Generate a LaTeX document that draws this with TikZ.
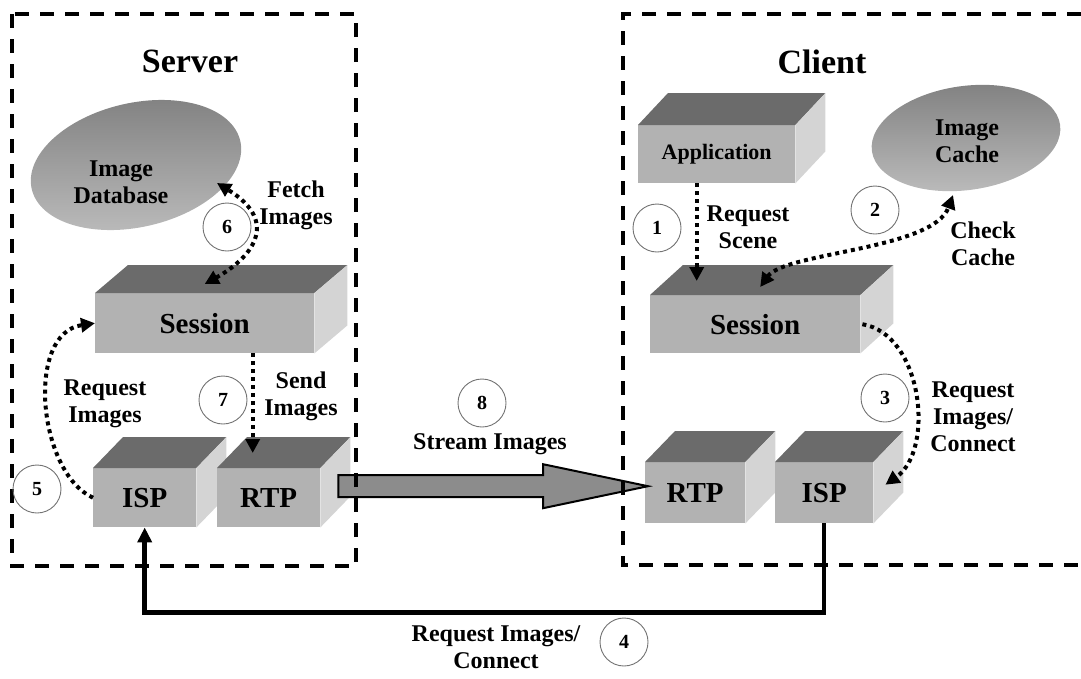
\documentclass[tikz,border=0pt]{standalone}
\usepackage{fontspec}
\setmainfont{Liberation Serif}
\usetikzlibrary{arrows.meta,calc,shapes.geometric}

\definecolor{frontgray}{gray}{0.70}
\definecolor{topgray}{gray}{0.42}
\definecolor{sidegray}{gray}{0.83}
\definecolor{blobdark}{gray}{0.50}
\definecolor{bloblight}{gray}{0.74}
\definecolor{ringgray}{gray}{0.45}
\definecolor{arrowgray}{gray}{0.55}

\tikzset{
  frame/.style={line width=3.5pt, dash pattern=on 14pt off 11pt},
  title/.style={font=\bfseries\fontsize{34}{40}\selectfont},
  lbl/.style={font=\bfseries\fontsize{24}{27}\selectfont, align=center},
  cube/.style={fill=frontgray, anchor=north west, inner sep=0pt,
    font=\bfseries\fontsize{29}{32}\selectfont},
  topface/.style={fill=topgray},
  sideface/.style={fill=sidegray},
  blob/.style={ellipse, inner sep=0pt, top color=blobdark, bottom color=bloblight},
  stepnum/.style={circle, draw=ringgray, line width=0.9pt, minimum size=48pt,
    inner sep=0pt, font=\bfseries\fontsize{20}{20}\selectfont},
  dotarrow/.style={line width=4pt, dash pattern=on 4pt off 4pt,
    -{Triangle[length=14pt,width=14pt]}},
  dotboth/.style={line width=4pt, dash pattern=on 4pt off 4pt,
    {Triangle[length=14pt,width=14pt]}-{Triangle[length=14pt,width=14pt]}},
  solidarrow/.style={line width=4.5pt, line join=miter,
    -{Triangle[length=15pt,width=14pt]}},
  bigarrow/.style={fill=arrowgray, draw=black, line width=2pt, line join=miter},
}

% top and right faces of a block whose front face is node #1,
% receding by #2 to the right and #3 upwards
\newcommand\cubefaces[3]{%
  \fill[topface] (#1.north west) -- ++(#2,-#3) -- ($(#1.north east)+(#2,-#3)$)
    -- (#1.north east) -- cycle;
  \fill[sideface] (#1.north east) -- ++(#2,-#3) -- ($(#1.south east)+(#2,-#3)$)
    -- (#1.south east) -- cycle;
}

\begin{document}
\begin{tikzpicture}[x=1pt,y=-1pt]
\useasboundingbox (0,0) rectangle (1081,678);

% ---------- titles ----------
\node[title] (srvtitle) at (190,61) {Server};
\node[title] (clttitle) at (822,62) {Client};

% ---------- stores ----------
\node[blob, minimum width=214pt, minimum height=124pt, rotate=13] (sdb) at (136,165) {};
\node[lbl] (sdblabel) at (121,182) {Image\\Database};
\node[blob, minimum width=190pt, minimum height=104pt, rotate=8] (ccache) at (966,138) {};
\node[lbl] (ccachelabel) at (967,141) {Image\\Cache};

% ---------- server blocks ----------
\node[cube, minimum width=219pt, minimum height=60pt] (ssess) at (95,293) {Session};
\cubefaces{ssess}{33}{28}
\node[cube, minimum width=103pt, minimum height=59pt] (sisp) at (93,468) {ISP};
\cubefaces{sisp}{30}{31}
\node[cube, minimum width=103pt, minimum height=59pt] (srtp) at (217,468) {RTP};
\cubefaces{srtp}{30}{31}

% ---------- client blocks ----------
\node[cube, minimum width=157pt, minimum height=58pt,
  font=\bfseries\fontsize{22}{24}\selectfont] (app) at (638,125) {Application};
\cubefaces{app}{30}{32}
\node[cube, minimum width=210pt, minimum height=58pt] (csess) at (650,295) {Session};
\cubefaces{csess}{33}{30}
\node[cube, minimum width=100pt, minimum height=61pt] (crtp) at (645,462) {RTP};
\cubefaces{crtp}{30}{31}
\node[cube, minimum width=98pt, minimum height=61pt] (cisp) at (775,462) {ISP};
\cubefaces{cisp}{30}{31}

% ---------- stream arrow ----------
\coordinate (s8) at ($(srtp.east)+(18,-11.5)$);
\coordinate (t8) at ($(crtp.west)+(3,-6.5)$);
\filldraw[bigarrow] ($(s8)+(0,-11)$) -- ($(t8)+(-105,-11)$) -- ($(t8)+(-105,-22)$)
  -- (t8) -- ($(t8)+(-105,22)$) -- ($(t8)+(-105,11)$) -- ($(s8)+(0,11)$) -- cycle;

% ---------- boundaries ----------
\draw[frame] (12,14) rectangle (356,566);
\draw[frame] (1081,14) -- (623,14) -- (623,565) -- (1081,565);

% ---------- step markers ----------
\node[stepnum] (n1) at (657,228) {1};
\node[stepnum] (n2) at (875,210) {2};
\node[stepnum] (n3) at (885,398) {3};
\node[stepnum] (n4) at (624,642) {4};
\node[stepnum] (n5) at (37,489) {5};
\node[stepnum] (n6) at (227,227) {6};
\node[stepnum] (n7) at (223,400) {7};
\node[stepnum] (n8) at (482,403) {8};

% ---------- labels ----------
\node[lbl] (lfetch) at (296,205) {Fetch\\Images};
\node[lbl] (lreqimg) at (105,404) {Request\\Images};
\node[lbl] (lsend) at (301,396) {Send\\Images};
\node[lbl] (lscene) at (748,227) {Request\\Scene};
\node[lbl] (lcheck) at (983,244) {Check\\Cache};
\node[lbl] (lconn) at (973,417) {Request\\Images/\\Connect};
\node[lbl] (lstream) at (490,444) {Stream Images};
\node[lbl] (lnet) at (496,647) {Request Images/\\Connect};

% ---------- message flows ----------
% 1: application asks the client session for a scene
\coordinate (a1) at ($(app.south)+(-20,0)$);
\draw[dotarrow, shorten >=14pt] (a1) -- (a1 |- csess.north);
% 2: session checks the image cache
\draw[dotboth] ($(csess.north)+(5,-8)$) .. controls +(25,-35) and +(-20,55)
  .. ($(ccache.center)+(-13,57)$);
% 3: session asks the client ISP
\draw[dotarrow] ($(csess.east)+(2,0)$) .. controls +(60,10) and +(50,-35)
  .. ($(cisp.east)+(12,-8)$);
% 4: client ISP to server ISP
\draw[solidarrow] (cisp.south) -- ++(0,89) -| (sisp.south);
% 5: server ISP requests images from the session
\draw[dotarrow] (sisp.west) .. controls +(-55,-25) and +(-70,10) .. (ssess.west);
% 6: session fetches from the database
\draw[dotboth] ($(ssess.north)+(0,-9)$) .. controls +(45,-25) and +(65,40)
  .. ($(sdb.center)+(81,18)$);
% 7: session hands images to RTP
\coordinate (a7) at ($(ssess.south)+(48,0)$);
\draw[dotarrow, shorten >=15pt] (a7) -- (a7 |- srtp.north);
\end{tikzpicture}
\end{document}
